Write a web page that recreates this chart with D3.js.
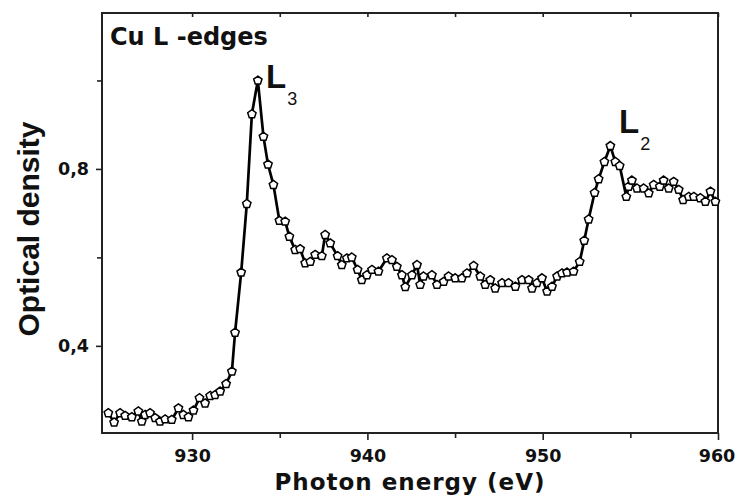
<!DOCTYPE html>
<html>
<head>
<meta charset="utf-8">
<script src="https://cdn.jsdelivr.net/npm/d3@7"></script>
<style>
  html, body { margin: 0; padding: 0; background: #fff; }
  svg { display: block; }
</style>
</head>
<body>
<svg id="chart" width="735" height="500"></svg>
<script>
// Cu L-edge absorption spectrum: photon energy (eV) vs optical density
const energy = [
  925.22, 925.55, 925.89, 926.18, 926.56, 926.93, 927.13, 927.32, 927.60, 927.89,
  928.17, 928.46, 928.84, 929.22, 929.50, 929.79, 930.08, 930.42, 930.74, 931.03,
  931.31, 931.60, 931.94, 932.27, 932.45, 932.80, 933.12, 933.41, 933.75, 934.07,
  934.33, 934.64, 934.98, 935.31, 935.55, 935.88, 936.16, 936.45, 936.74, 937.02,
  937.40, 937.59, 937.88, 938.30, 938.54, 938.83, 939.11, 939.44, 939.68, 939.97,
  940.26, 940.63, 941.11, 941.40, 941.68, 941.97, 942.16, 942.54, 942.83, 943.01,
  943.20, 943.68, 943.97, 944.35, 944.63, 945.01, 945.39, 945.68, 946.06, 946.44,
  946.72, 947.01, 947.29, 947.68, 948.05, 948.44, 948.82, 949.20, 949.39, 949.67,
  949.96, 950.25, 950.53, 950.82, 951.10, 951.39, 951.76, 952.11, 952.37, 952.62,
  952.96, 953.19, 953.52, 953.86, 954.14, 954.39, 954.77, 954.90, 955.09, 955.38,
  955.76, 956.05, 956.33, 956.68, 956.90, 957.19, 957.47, 957.76, 958.01, 958.33,
  958.62, 958.99, 959.28, 959.57, 959.85
];
const density = [
  0.248, 0.227, 0.248, 0.242, 0.239, 0.252, 0.229, 0.244, 0.248, 0.237,
  0.229, 0.234, 0.233, 0.259, 0.244, 0.239, 0.254, 0.282, 0.270, 0.287,
  0.289, 0.297, 0.314, 0.342, 0.430, 0.566, 0.721, 0.924, 1.000, 0.873,
  0.810, 0.764, 0.683, 0.681, 0.647, 0.617, 0.619, 0.587, 0.590, 0.606,
  0.603, 0.651, 0.632, 0.603, 0.583, 0.598, 0.600, 0.572, 0.549, 0.560,
  0.572, 0.568, 0.598, 0.594, 0.579, 0.560, 0.533, 0.560, 0.583, 0.538,
  0.557, 0.560, 0.538, 0.545, 0.557, 0.553, 0.553, 0.564, 0.581, 0.557,
  0.538, 0.549, 0.530, 0.542, 0.542, 0.534, 0.549, 0.549, 0.530, 0.542,
  0.553, 0.523, 0.534, 0.557, 0.564, 0.566, 0.568, 0.590, 0.638, 0.686,
  0.746, 0.777, 0.816, 0.852, 0.816, 0.807, 0.737, 0.760, 0.774, 0.756,
  0.756, 0.745, 0.764, 0.760, 0.774, 0.756, 0.771, 0.753, 0.730, 0.737,
  0.737, 0.734, 0.726, 0.749, 0.726
];

const xMajorTicks = [930, 940, 950, 960];
const xMinorTicks = [935, 945, 955];
const yMajorTicks = [0.4, 0.8];
const yMinorTicks = [0.6, 1.0];

const title = "Cu L -edges";
const xTitle = "Photon energy (eV)";
const yTitle = "Optical density";

const points = energy.map((e, i) => ({ e, od: density[i] }));

const plot = { left: 102, right: 718, top: 13, bottom: 433 };
const svg = d3.select("#chart");

const x = d3.scaleLinear().domain([924.86, 960]).range([plot.left, plot.right]);
const y = d3.scaleLinear().domain([0.203, 1.1525]).range([plot.bottom, plot.top]);

const tickFont = "'DejaVu Sans', Verdana, sans-serif";
const labelFont = "'Liberation Sans', Arial, sans-serif";
const commaFmt = d => d.toFixed(1).replace(".", ",");

function styleAxis(g) {
  g.select(".domain").remove();
  g.selectAll(".tick line").attr("stroke", "#222").attr("stroke-width", 1.6);
  g.selectAll(".tick text")
    .attr("fill", "#111")
    .style("font-family", tickFont)
    .style("font-weight", "bold")
    .style("font-size", "17.5px");
}

// bottom axis: labelled majors, bare minors
const xAxisG = svg.append("g")
  .attr("transform", `translate(0,${plot.bottom})`)
  .call(d3.axisBottom(x).tickValues(xMajorTicks).tickSize(7).tickPadding(10).tickFormat(d3.format("d")))
  .call(styleAxis);
// keep the last label inside the page edge
xAxisG.selectAll(".tick text").filter(d => d === 960).attr("dx", -1.5);

svg.append("g")
  .attr("transform", `translate(0,${plot.bottom})`)
  .call(d3.axisBottom(x).tickValues(xMinorTicks).tickSize(5).tickFormat(""))
  .call(styleAxis);

// top mirror ticks, pointing inward
svg.append("g")
  .attr("transform", `translate(0,${plot.top})`)
  .call(d3.axisBottom(x).tickValues(xMajorTicks.concat(xMinorTicks)).tickSize(4).tickFormat(""))
  .call(styleAxis);

// left axis
svg.append("g")
  .attr("transform", `translate(${plot.left},0)`)
  .call(d3.axisLeft(y).tickValues(yMajorTicks).tickSize(6).tickPadding(7).tickFormat(commaFmt))
  .call(styleAxis);
svg.append("g")
  .attr("transform", `translate(${plot.left},0)`)
  .call(d3.axisLeft(y).tickValues(yMinorTicks).tickSize(5).tickFormat(""))
  .call(styleAxis);

// plot frame
svg.append("rect")
  .attr("x", plot.left).attr("y", plot.top)
  .attr("width", plot.right - plot.left).attr("height", plot.bottom - plot.top)
  .attr("fill", "none").attr("stroke", "#222").attr("stroke-width", 2);

// connecting line
const line = d3.line().x(d => x(d.e)).y(d => y(d.od));
svg.append("path")
  .datum(points)
  .attr("d", line)
  .attr("fill", "none")
  .attr("stroke", "#000")
  .attr("stroke-width", 2.7)
  .attr("stroke-linejoin", "round");

// open pentagon markers
const pentagon = {
  draw(ctx, size) {
    const r = Math.sqrt(size / 2.378);
    for (let i = 0; i < 5; i++) {
      const a = -Math.PI / 2 + i * 2 * Math.PI / 5;
      const px = r * Math.cos(a), py = r * Math.sin(a);
      if (i === 0) ctx.moveTo(px, py); else ctx.lineTo(px, py);
    }
    ctx.closePath();
  }
};
svg.append("g").selectAll("path")
  .data(points)
  .join("path")
  .attr("transform", d => `translate(${x(d.e)},${y(d.od)})`)
  .attr("d", d3.symbol().type(pentagon).size(46))
  .attr("fill", "#fff")
  .attr("stroke", "#000")
  .attr("stroke-width", 1.5);

// axis titles
svg.append("text")
  .attr("x", 410).attr("y", 490)
  .attr("text-anchor", "middle")
  .style("font-family", tickFont).style("font-weight", "bold")
  .style("font-size", "23px").style("letter-spacing", "1px")
  .attr("fill", "#111")
  .text(xTitle);

svg.append("text")
  .attr("transform", "translate(39,229) rotate(-90)")
  .attr("text-anchor", "middle")
  .style("font-family", labelFont).style("font-weight", "bold")
  .style("font-size", "30px")
  .attr("fill", "#111")
  .text(yTitle);

// panel title
svg.append("text")
  .attr("x", 110).attr("y", 45)
  .style("font-family", tickFont).style("font-weight", "bold")
  .style("font-size", "24px")
  .attr("fill", "#111")
  .text(title);

// edge labels with subscripts
function edgeLabel(xPos, yPos, main, sub) {
  const t = svg.append("text")
    .attr("x", xPos).attr("y", yPos)
    .style("font-family", labelFont).style("font-weight", "bold")
    .style("font-size", "33px")
    .attr("fill", "#111");
  t.append("tspan").text(main);
  t.append("tspan").attr("dx", 1).attr("dy", 17)
    .style("font-size", "18px").style("font-weight", "normal")
    .text(sub);
}
edgeLabel(266, 88, "L", "3");
edgeLabel(619, 133, "L", "2");
</script>
</body>
</html>
